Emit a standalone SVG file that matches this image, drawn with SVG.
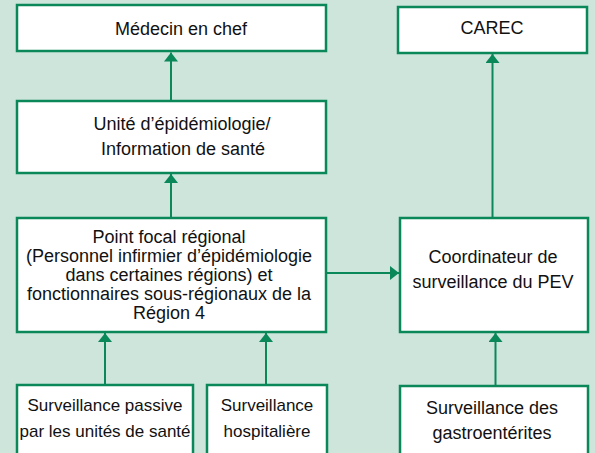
<svg xmlns="http://www.w3.org/2000/svg" width="595" height="453" viewBox="0 0 595 453">
<style>
.box{fill:#ffffff;stroke:#0a885a;stroke-width:2.5}
.t{font-family:"Liberation Sans","DejaVu Sans",sans-serif;font-size:18px;fill:#111;text-anchor:middle}
.s{font-size:17px}
.c{stroke:#0a885a;stroke-width:2;fill:none;marker-end:url(#ah)}
</style>
<defs>
<marker id="ah" markerUnits="userSpaceOnUse" viewBox="0 0 9 14" refX="9" refY="7" markerWidth="9" markerHeight="14" orient="auto">
<path d="M0,0 L9,7 L0,14 z" fill="#0a885a"/>
</marker>
</defs>
<rect width="595" height="453" fill="#cde5db"/>
<g id="connectors">
<line class="c" x1="171" y1="101" x2="171" y2="52.5"/>
<line class="c" x1="171" y1="218" x2="171" y2="174"/>
<line class="c" x1="105" y1="385" x2="105" y2="333"/>
<line class="c" x1="266" y1="385" x2="266" y2="333"/>
<line class="c" x1="327" y1="273" x2="399" y2="273"/>
<line class="c" x1="492.5" y1="218" x2="492.5" y2="54"/>
<line class="c" x1="495.5" y1="386" x2="495.5" y2="333"/>
</g>
<g id="medecin">
<rect class="box" x="17" y="5" width="309" height="46"/>
<text class="t" x="181" y="35">Médecin en chef</text>
</g>
<g id="carec">
<rect class="box" x="398" y="7" width="189" height="46"/>
<text class="t" x="492" y="34">CAREC</text>
</g>
<g id="unite">
<rect class="box" x="17" y="101" width="309" height="72"/>
<text class="t" x="182" y="130">Unité d’épidémiologie/</text>
<text class="t" x="183" y="155">Information de santé</text>
</g>
<g id="pointfocal">
<rect class="box" x="17" y="218" width="309" height="114"/>
<text class="t" x="169" y="243">Point focal régional</text>
<text class="t" x="169" y="262">(Personnel infirmier d’épidémiologie</text>
<text class="t" x="169" y="281">dans certaines régions) et</text>
<text class="t" x="169" y="300">fonctionnaires sous-régionaux de la</text>
<text class="t" x="169" y="319">Région 4</text>
</g>
<g id="coordinateur">
<rect class="box" x="400" y="218" width="188" height="114"/>
<text class="t" x="493" y="263">Coordinateur de</text>
<text class="t" x="493" y="288">surveillance du PEV</text>
</g>
<g id="passive">
<rect class="box" x="17" y="385" width="176" height="72"/>
<text class="t s" x="105" y="411">Surveillance passive</text>
<text class="t s" x="105" y="437">par les unités de santé</text>
</g>
<g id="hospitaliere">
<rect class="box" x="207" y="385" width="120" height="72"/>
<text class="t s" x="267" y="411">Surveillance</text>
<text class="t s" x="267" y="437">hospitalière</text>
</g>
<g id="gastro">
<rect class="box" x="400" y="386" width="188" height="72"/>
<text class="t" x="492" y="414">Surveillance des</text>
<text class="t" x="492" y="439">gastroentérites</text>
</g>
</svg>
